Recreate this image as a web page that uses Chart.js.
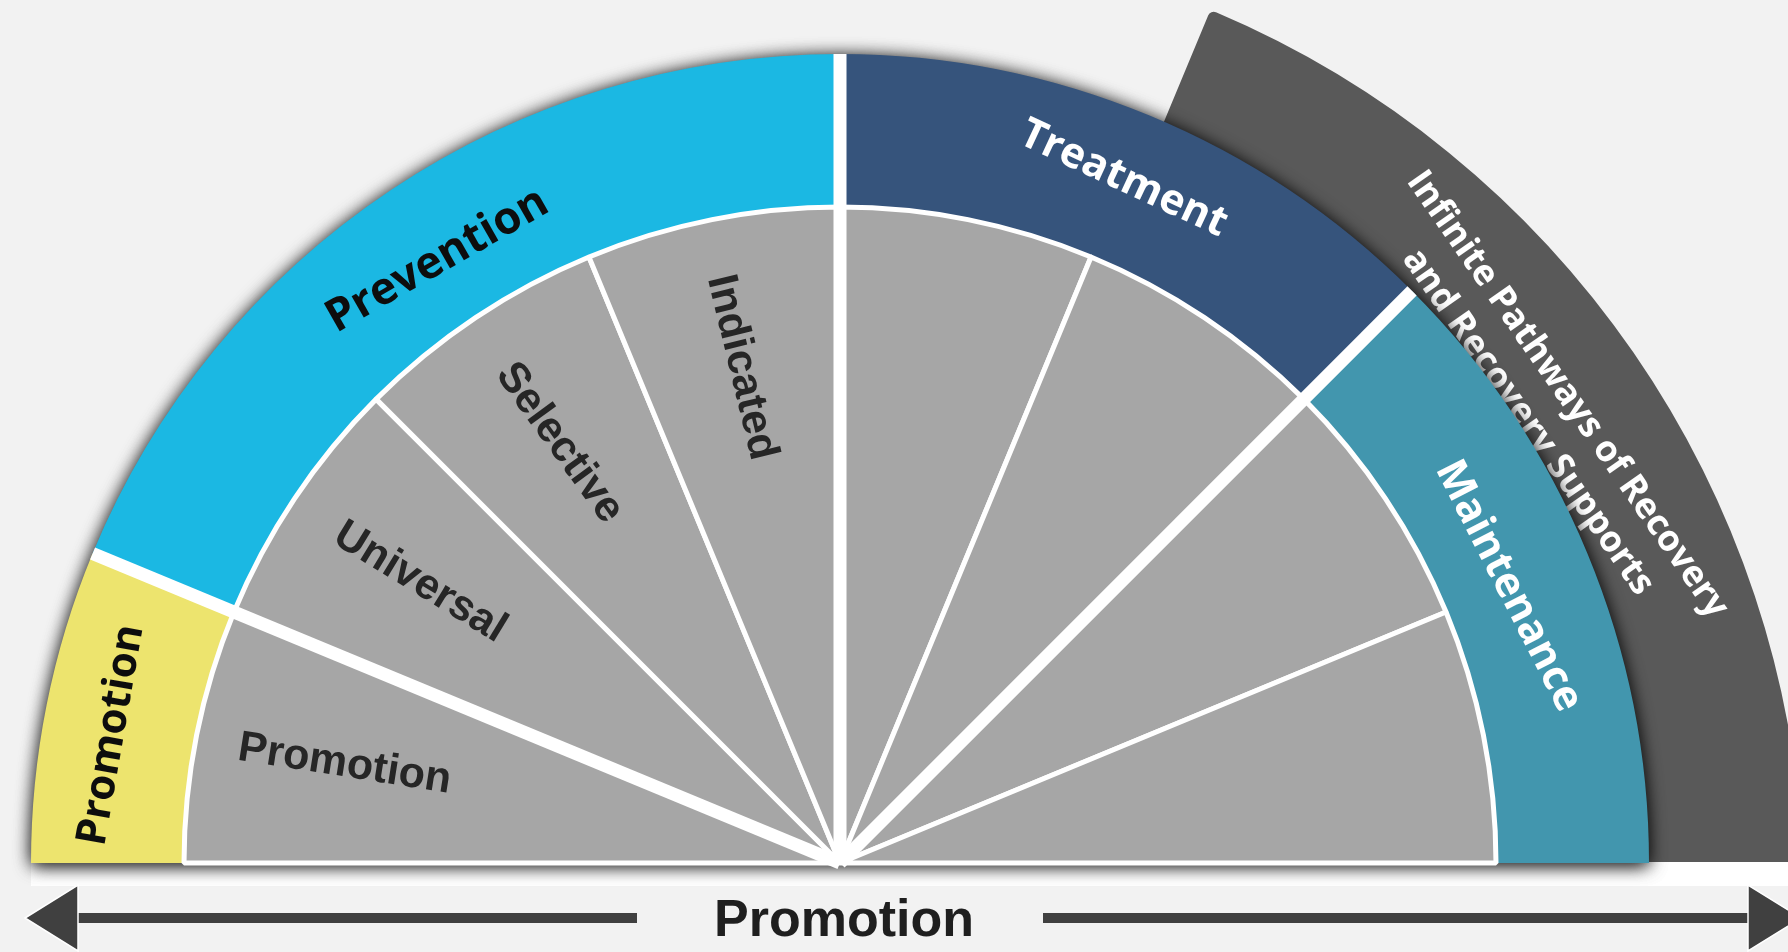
<!DOCTYPE html>
<html>
<head>
<meta charset="utf-8">
<script src="https://cdn.jsdelivr.net/npm/chart.js@4.4.1/dist/chart.umd.min.js"></script>
<style>
  html, body { margin: 0; padding: 0; background: #f2f2f2; overflow: hidden; }
  #wrap { position: relative; width: 1788px; height: 952px; }
  #wrap canvas { position: absolute; left: 0; top: 0; }
</style>
</head>
<body>
<div id="wrap">
  <canvas id="band" width="1788" height="952"></canvas>
  <canvas id="wheel" width="1788" height="952"></canvas>
</div>
<script>
// outer ring, in degrees of the half circle (left to right)
const stageLabels = ["Promotion", "Prevention", "Treatment", "Maintenance"];
const stageSpans = [22.5, 67.5, 45, 45];

// inner slices
const sliceLabels = ["Promotion", "Universal", "Selective", "Indicated", "", "", "", ""];
const sliceSpans = [22.5, 22.5, 22.5, 22.5, 22.5, 22.5, 22.5, 22.5];

// recovery band, measured round its own centre
const bandLabels = ["", "Infinite Pathways of Recovery\nand Recovery Supports", ""];
const bandSpans = [112.6, 65.2, 2.2];

const axisLabel = "Promotion";

// styles
const stageColors = ["#ede46e", "#1bb8e3", "#36547c", "#4296ae"];
const stageTextColors = ["#0d0d0d", "#0d0d0d", "#ffffff", "#ffffff"];
const stageFontSizes = [42, 45, 42, 42];
const stageLabelLift = [7, -8, 8, -9];
const stageLabelTurn = [0, 4, 2.5, -4.5];
const stageLabelShift = [-1.3, 0, 0, 0];
const SLICE_FONT = 'bold 43px "Liberation Sans"';
const BAND_FONT = 'bold 36px "Open Sans"';
const AXIS_FONT = 'bold 52px "Liberation Sans"';

function drawText(ctx, text, x, y, rot, font, color, lineHeight) {
  const lines = text.split("\n");
  ctx.save();
  ctx.translate(x, y);
  ctx.rotate(rot);
  ctx.font = font;
  ctx.fillStyle = color;
  ctx.textAlign = "center";
  ctx.textBaseline = "middle";
  lines.forEach((line, i) => {
    ctx.fillText(line, 0, (i - (lines.length - 1) / 2) * (lineHeight || 0));
  });
  ctx.restore();
}

const wheelDecor = {
  id: "wheelDecor",
  beforeDatasetsDraw(chart) {
    const ctx = chart.ctx;
    const { x, y, outerRadius } = chart.getDatasetMeta(0).data[0];
    ctx.save();
    // white base strip
    ctx.fillStyle = "#ffffff";
    ctx.fillRect(x - outerRadius, y - 1, chart.width, 24);
    // shadow caster under the half disc, laid twice for depth
    ctx.shadowColor = "rgba(0, 0, 0, 0.7)";
    ctx.shadowBlur = 18;
    ctx.shadowOffsetY = 2;
    ctx.fillStyle = "#a6a6a6";
    for (let k = 0; k < 2; k++) {
      ctx.beginPath();
      ctx.arc(x, y, outerRadius - 1, Math.PI, 2 * Math.PI);
      ctx.closePath();
      ctx.fill();
    }
    ctx.restore();
  },
  afterDatasetsDraw(chart) {
    const ctx = chart.ctx;
    const stages = chart.getDatasetMeta(0).data;
    const slices = chart.getDatasetMeta(1).data;

    // thick white cuts between the stages
    ctx.save();
    ctx.strokeStyle = "#ffffff";
    ctx.lineWidth = 13;
    ctx.lineCap = "butt";
    stages.slice(1).forEach((arc) => {
      const a = arc.startAngle;
      ctx.beginPath();
      ctx.moveTo(arc.x, arc.y);
      ctx.lineTo(arc.x + arc.outerRadius * Math.cos(a), arc.y + arc.outerRadius * Math.sin(a));
      ctx.stroke();
    });
    ctx.restore();

    stages.forEach((arc, i) => {
      const mid = (arc.startAngle + arc.endAngle) / 2 + stageLabelShift[i] * Math.PI / 180;
      const r = (arc.innerRadius + arc.outerRadius) / 2 + stageLabelLift[i];
      drawText(ctx, stageLabels[i], arc.x + r * Math.cos(mid), arc.y + r * Math.sin(mid),
        mid + Math.PI / 2 + stageLabelTurn[i] * Math.PI / 180,
        'bold ' + stageFontSizes[i] + 'px "Open Sans"', stageTextColors[i]);
    });

    slices.forEach((arc, i) => {
      if (!sliceLabels[i]) return;
      const mid = (arc.startAngle + arc.endAngle) / 2;
      const r = arc.outerRadius * 0.77;
      drawText(ctx, sliceLabels[i], arc.x + r * Math.cos(mid), arc.y + r * Math.sin(mid),
        mid + Math.PI - 0.04, SLICE_FONT, "#262626");
    });

    // double arrow along the base
    const { x, y, outerRadius } = stages[0];
    const ay = y + 55;
    const left = x - outerRadius - 6;
    const right = chart.width + 13;
    const head = 53, half = 33, gap = 203;
    ctx.save();
    ctx.fillStyle = "#404040";
    ctx.fillRect(left + head, ay - 5, x - gap - (left + head), 10);
    ctx.fillRect(x + gap, ay - 5, right - head - (x + gap), 10);
    ctx.strokeStyle = "#ffffff";
    ctx.lineWidth = 1.5;
    ctx.beginPath();
    ctx.moveTo(left, ay);
    ctx.lineTo(left + head, ay - half);
    ctx.lineTo(left + head, ay + half);
    ctx.closePath();
    ctx.fill();
    ctx.stroke();
    ctx.beginPath();
    ctx.moveTo(right, ay);
    ctx.lineTo(right - head, ay - half);
    ctx.lineTo(right - head, ay + half);
    ctx.closePath();
    ctx.fill();
    ctx.stroke();
    ctx.restore();
    drawText(ctx, axisLabel, x + 4, ay + 4, 0, AXIS_FONT, "#1f1f1f");
  },
};

const bandText = {
  id: "bandText",
  afterDatasetsDraw(chart) {
    const ctx = chart.ctx;
    chart.getDatasetMeta(0).data.forEach((arc, i) => {
      if (!bandLabels[i]) return;
      const mid = (arc.startAngle + arc.endAngle) / 2;
      const r = arc.innerRadius + 0.41 * (arc.outerRadius - arc.innerRadius);
      drawText(ctx, bandLabels[i], arc.x + r * Math.cos(mid), arc.y + r * Math.sin(mid),
        mid + Math.PI / 2, BAND_FONT, "#ffffff", 48);
    });
  },
};

function build() {
  new Chart(document.getElementById("band"), {
    type: "doughnut",
    data: {
      labels: bandLabels,
      datasets: [
        {
          data: bandSpans,
          backgroundColor: ["rgba(0,0,0,0)", "#595959", "rgba(0,0,0,0)"],
          borderWidth: 0,
          borderRadius: { outerStart: 6 },
        },
      ],
    },
    options: {
      responsive: false,
      animation: false,
      devicePixelRatio: 1,
      events: [],
      rotation: -90,
      circumference: 180,
      radius: 964,
      cutout: "82%",
      layout: { padding: { left: 0, right: 108, top: 0, bottom: 116 } },
      plugins: { legend: { display: false }, tooltip: { enabled: false } },
    },
    plugins: [bandText],
  });

  new Chart(document.getElementById("wheel"), {
    type: "pie",
    data: {
      labels: sliceLabels,
      datasets: [
        {
          label: "Stages",
          data: stageSpans,
          backgroundColor: stageColors,
          borderWidth: 0,
          weight: 153,
          order: 2,
        },
        {
          label: "Levels",
          data: sliceSpans,
          backgroundColor: "#a6a6a6",
          borderColor: "#ffffff",
          borderWidth: 5,
          weight: 656,
          order: 1,
        },
      ],
    },
    options: {
      responsive: false,
      animation: false,
      devicePixelRatio: 1,
      events: [],
      rotation: -90,
      circumference: 180,
      radius: 809,
      layout: { padding: { left: 0, right: 108, top: 0, bottom: 35 } },
      plugins: { legend: { display: false }, tooltip: { enabled: false } },
    },
    plugins: [wheelDecor],
  });
}

Promise.all([
  document.fonts.load('bold 45px "Open Sans"'),
  document.fonts.load(SLICE_FONT),
]).then(build, build);
</script>
</body>
</html>
